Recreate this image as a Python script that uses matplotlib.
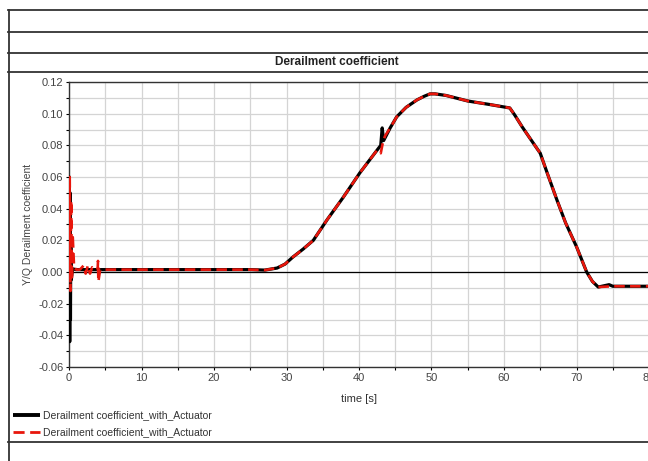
import matplotlib
matplotlib.use("Agg")
import matplotlib.pyplot as plt
from matplotlib.lines import Line2D
from matplotlib.ticker import MultipleLocator, FormatStrFormatter

plt.rcParams['font.family'] = ['Liberation Sans', 'DejaVu Sans']

# Derailment coefficient, run with actuator (solid black)
black_t = [0.0, 0.05, 0.1, 0.15, 0.2, 0.25, 0.3, 0.5, 1.0, 2.0, 5.0, 10.0, 15.0, 20.0,
           25.0, 27.0, 28.7, 29.8, 30.9, 32.3, 33.7, 35.6, 37.8, 40.1, 42.5, 43.0,
           43.2, 43.4, 44.3, 45.2, 46.5, 48.0, 49.0, 49.8, 50.5, 52.0, 55.0, 58.0,
           60.8, 61.5, 62.5, 63.5, 65.0, 66.0, 67.3, 68.5, 70.0, 71.4, 72.2, 73.0,
           74.5, 75.0, 80.0]
black_y = [0.0, 0.060, -0.044, 0.050, -0.030, 0.020, -0.005, 0.002, 0.0015, 0.0015,
           0.0015, 0.0015, 0.0015, 0.0015, 0.0015, 0.0012, 0.0025, 0.0050, 0.0095,
           0.0145, 0.020, 0.033, 0.047, 0.0625, 0.077, 0.080, 0.091, 0.083, 0.091,
           0.098, 0.104, 0.1087, 0.111, 0.1125, 0.1125, 0.1115, 0.108, 0.1058,
           0.1036, 0.099, 0.0917, 0.085, 0.075, 0.062, 0.0455, 0.031, 0.016, 0.0,
           -0.006, -0.0095, -0.008, -0.009, -0.009]

# Same quantity, second run (dashed red)
red_t = [0.0, 0.1, 0.2, 0.3, 0.4, 0.5, 0.7, 1.0, 1.5, 2.0, 2.3, 2.6, 2.9, 3.2, 3.6,
         3.95, 4.0, 4.05, 4.3, 5.0, 10.0, 15.0, 20.0, 25.0, 27.0, 28.7, 29.8, 30.9,
         32.3, 33.7, 35.6, 37.8, 40.1, 42.5, 43.0, 43.3, 43.6, 44.3, 45.2, 46.5,
         48.0, 49.0, 49.8, 50.5, 52.0, 55.0, 58.0, 60.8, 61.5, 62.5, 63.5, 65.0,
         66.0, 67.3, 68.5, 70.0, 71.4, 72.2, 73.0, 75.0, 80.0]
red_y = [0.0, 0.060, -0.012, 0.045, -0.005, 0.024, 0.003, 0.0015, 0.0015, 0.004,
         -0.001, 0.004, -0.001, 0.003, 0.0015, 0.0015, 0.007, -0.006, 0.0015, 0.0015,
         0.0015, 0.0015, 0.0015, 0.0015, 0.0012, 0.0025, 0.0050, 0.0095, 0.0145,
         0.020, 0.033, 0.047, 0.0625, 0.077, 0.075, 0.082, 0.086, 0.091, 0.098,
         0.104, 0.1087, 0.111, 0.1125, 0.1125, 0.1115, 0.108, 0.1058, 0.1036, 0.099,
         0.0917, 0.085, 0.075, 0.062, 0.0455, 0.031, 0.016, 0.0, -0.006, -0.0095,
         -0.009, -0.009]

series_labels = ["Derailment coefficient_with_Actuator",
                 "Derailment coefficient_with_Actuator"]
chart_title = "Derailment coefficient"
x_label = "time [s]"
y_label = "Y/Q Derailment coefficient"

W, H = 648, 461
fig = plt.figure(figsize=(W / 100, H / 100), dpi=100)
fig.patch.set_facecolor("white")

def fx(px):
    return px / W

def fy(py):
    return 1 - py / H

ax = fig.add_axes([fx(69), fy(367), fx(649) - fx(69), fy(82) - fy(367)])

ax.plot(black_t, black_y, color="black", lw=2.3, solid_capstyle="butt",
        solid_joinstyle="round", label=series_labels[0], zorder=3)
ax.plot(red_t, red_y, color="#e8160c", lw=1.9, dashes=(4, 2),
        label=series_labels[1], zorder=4)
ax.axhline(0, color="black", lw=0.9, zorder=2)

ax.set_xlim(0, 80)
ax.set_ylim(-0.06, 0.12)
ax.xaxis.set_major_locator(MultipleLocator(10))
ax.xaxis.set_minor_locator(MultipleLocator(5))
ax.yaxis.set_major_locator(MultipleLocator(0.02))
ax.yaxis.set_minor_locator(MultipleLocator(0.01))
ax.yaxis.set_major_formatter(FormatStrFormatter("%.2f"))
ax.grid(True, which="both", color="#d4d4d4", lw=0.9, zorder=0)
ax.tick_params(which="major", direction="out", length=2.5, width=0.8,
               color="black", labelsize=8, labelcolor="#444444", pad=1.5)
ax.tick_params(which="minor", direction="out", length=2.0, width=0.8,
               color="black")
for side in ("left", "bottom", "top"):
    ax.spines[side].set_color("#333333")
    ax.spines[side].set_linewidth(1.0)
ax.spines["right"].set_visible(False)

ax.set_xlabel(x_label, fontsize=8, color="#333333", labelpad=8)
ax.set_ylabel(y_label, fontsize=7.5, color="#444444", labelpad=4)

fig.text(fx(337), fy(62), chart_title, ha="center", va="center",
         fontsize=8.5, fontweight="bold", color="#222222")

# Framing lines of the report panel
frame_kw = dict(color="#333333", lw=1.3, transform=fig.transFigure)
for py in (10, 32, 53, 72, 442):
    fig.add_artist(Line2D([fx(8), 1.0], [fy(py), fy(py)], **frame_kw))
fig.add_artist(Line2D([fx(9), fx(9)], [fy(10), 0.0], **frame_kw))

# Legend rows below the axes
legend_rows = [(415, dict(color="black", lw=2.8, solid_capstyle="butt")),
               (432, dict(color="#e8160c", lw=2.0, dashes=(4, 2)))]
for (py, style), label in zip(legend_rows, series_labels):
    fig.add_artist(Line2D([fx(13), fx(40)], [fy(py), fy(py)],
                          transform=fig.transFigure, **style))
    fig.text(fx(43), fy(py), label, ha="left", va="center",
             fontsize=7.5, color="#333333")

fig.savefig("out.png", dpi=100)
